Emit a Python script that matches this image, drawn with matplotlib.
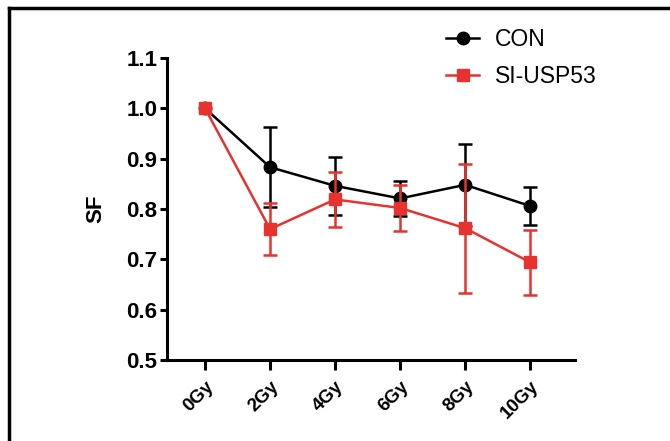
import numpy as np
import matplotlib.pyplot as plt
from matplotlib.lines import Line2D

plt.rcParams['font.family'] = ['Liberation Sans', 'DejaVu Sans']

doses = ['0Gy', '2Gy', '4Gy', '6Gy', '8Gy', '10Gy']
con = [1.0, 0.883, 0.846, 0.821, 0.848, 0.806]
con_err = [0.0, 0.080, 0.057, 0.034, 0.081, 0.037]
si = [1.0, 0.760, 0.819, 0.802, 0.762, 0.694]
si_err = [0.0, 0.052, 0.055, 0.045, 0.128, 0.065]

red = '#e8322f'
x = np.arange(len(doses))

fig = plt.figure(figsize=(6.7, 4.41), dpi=100)
ax = fig.add_axes([167/670, 81/441, (575-167)/670, (360-58)/441])

# lines + markers, then error bars only where there is an error
for y, err, c, m, ms in [(con, con_err, 'black', 'o', 9), (si, si_err, red, 's', 8)]:
    y = np.array(y)
    err = np.array(err)
    has = err > 0
    ax.errorbar(x[has], y[has], yerr=err[has], fmt='none', ecolor=c,
                elinewidth=1.8, capsize=5, capthick=1.8)
    ax.plot(x, y, color=c, marker=m, markersize=ms, linewidth=1.8)

ax.set_xlim(-0.585, 5.69)
ax.set_ylim(0.5, 1.1)
yt = np.arange(0.5, 1.11, 0.1)
ax.set_yticks(yt)
ax.set_yticklabels(['%.1f' % v for v in yt], fontsize=16, fontweight='bold')
ax.set_xticks(x)
ax.set_xticklabels(doses, rotation=45, ha='right', rotation_mode='anchor',
                   fontsize=13.5, fontweight='bold')
ax.set_ylabel('SF', fontsize=16, fontweight='bold', labelpad=14)

for s in ['top', 'right']:
    ax.spines[s].set_visible(False)
for s in ['left', 'bottom']:
    ax.spines[s].set_linewidth(2.2)
ax.tick_params(axis='y', width=2.2, length=5, pad=2)
ax.tick_params(axis='x', width=2.2, length=7, pad=6)

handles = [Line2D([], [], color='black', marker='o', markersize=9, linewidth=1.8),
           Line2D([], [], color=red, marker='s', markersize=8, linewidth=1.8)]
ax.legend(handles, ['CON', 'SI-USP53'], loc='upper left',
          bbox_to_anchor=(446/670, (441-28)/441),
          bbox_transform=fig.transFigure, frameon=False, fontsize=16.5,
          handlelength=1.45, handletextpad=0.7, labelspacing=0.6,
          borderpad=0, borderaxespad=0)

# partial frame around the figure
fig.add_artist(Line2D([9/670, 9/670], [0, 1 - 8/441], color='black', linewidth=2.5))
fig.add_artist(Line2D([9/670, 668/670], [1 - 8/441, 1 - 8/441], color='black', linewidth=2.5))

fig.savefig('out.png', dpi=100)
